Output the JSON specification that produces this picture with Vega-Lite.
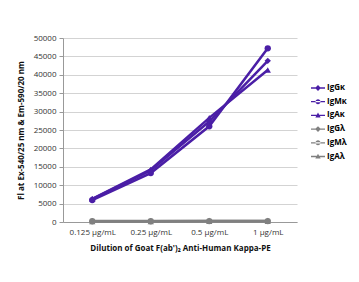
{
  "$schema": "https://vega.github.io/schema/vega-lite/v6.json",
  "width": 234,
  "height": 184,
  "autosize": "none",
  "padding": {"left": 63, "top": 38, "right": 62, "bottom": 60},
  "background": "white",
  "config": {
    "view": {"stroke": null},
    "font": "Open Sans",
    "axis": {"labelFont": "Open Sans", "titleFont": "Open Sans", "labelColor": "#333", "titleColor": "#111"}
  },
  "data": {
    "values": [
      {"dilution": "0.125 µg/mL", "series": "IgGκ", "value": 6200},
      {"dilution": "0.25 µg/mL", "series": "IgGκ", "value": 14000},
      {"dilution": "0.5 µg/mL", "series": "IgGκ", "value": 27300},
      {"dilution": "1 µg/mL", "series": "IgGκ", "value": 43800},
      {"dilution": "0.125 µg/mL", "series": "IgMκ", "value": 5950},
      {"dilution": "0.25 µg/mL", "series": "IgMκ", "value": 13300},
      {"dilution": "0.5 µg/mL", "series": "IgMκ", "value": 26000},
      {"dilution": "1 µg/mL", "series": "IgMκ", "value": 47200},
      {"dilution": "0.125 µg/mL", "series": "IgAκ", "value": 6300},
      {"dilution": "0.25 µg/mL", "series": "IgAκ", "value": 14300},
      {"dilution": "0.5 µg/mL", "series": "IgAκ", "value": 28300},
      {"dilution": "1 µg/mL", "series": "IgAκ", "value": 41300},
      {"dilution": "0.125 µg/mL", "series": "IgGλ", "value": 250},
      {"dilution": "0.25 µg/mL", "series": "IgGλ", "value": 250},
      {"dilution": "0.5 µg/mL", "series": "IgGλ", "value": 300},
      {"dilution": "1 µg/mL", "series": "IgGλ", "value": 300},
      {"dilution": "0.125 µg/mL", "series": "IgMλ", "value": 200},
      {"dilution": "0.25 µg/mL", "series": "IgMλ", "value": 200},
      {"dilution": "0.5 µg/mL", "series": "IgMλ", "value": 250},
      {"dilution": "1 µg/mL", "series": "IgMλ", "value": 250},
      {"dilution": "0.125 µg/mL", "series": "IgAλ", "value": 150},
      {"dilution": "0.25 µg/mL", "series": "IgAλ", "value": 150},
      {"dilution": "0.5 µg/mL", "series": "IgAλ", "value": 200},
      {"dilution": "1 µg/mL", "series": "IgAλ", "value": 200}
    ]
  },
  "encoding": {
    "x": {
      "field": "dilution", "type": "ordinal",
      "sort": ["0.125 µg/mL", "0.25 µg/mL", "0.5 µg/mL", "1 µg/mL"],
      "scale": {"type": "point", "padding": 0.5},
      "axis": {
        "title": "Dilution of Goat F(ab')₂ Anti-Human Kappa-PE",
        "titleFontSize": 8, "titleFontWeight": "bold", "titlePadding": 8,
        "labelAngle": 0, "labelFontSize": 8, "labelPadding": 6,
        "ticks": false, "domainColor": "#999", "grid": false
      }
    },
    "y": {
      "field": "value", "type": "quantitative",
      "scale": {"domain": [0, 50000]},
      "axis": {
        "title": "Fl at Ex-540/25 nm & Em-590/20 nm",
        "titleFontSize": 8, "titleFontWeight": "bold", "titlePadding": 8,
        "values": [0, 5000, 10000, 15000, 20000, 25000, 30000, 35000, 40000, 45000, 50000],
        "format": "d", "labelFontSize": 8, "labelPadding": 3,
        "tickSize": 4, "tickColor": "#999", "domainColor": "#999",
        "gridColor": "#c8c8c8", "gridWidth": 0.8
      }
    }
  },
  "layer": [
    {
      "mark": {"type": "line", "strokeWidth": 2.5},
      "encoding": {
        "stroke": {
          "field": "series", "type": "nominal",
          "scale": {
            "domain": ["IgAλ", "IgMλ", "IgGλ", "IgAκ", "IgMκ", "IgGκ"],
            "range": ["#808080", "#808080", "#808080", "#4a1ea6", "#4a1ea6", "#4a1ea6"]
          },
          "legend": {
            "title": null, "orient": "none", "legendX": 248, "legendY": 43,
            "values": ["IgGκ", "IgMκ", "IgAκ", "IgGλ", "IgMλ", "IgAλ"],
            "labelFontSize": 8, "labelFontWeight": "bold", "rowPadding": 2.7,
            "symbolSize": 196, "labelOffset": 2,
            "encode": {
              "symbols": {
                "update": {
                  "shape": {"signal": "(datum.value === 'IgGκ' || datum.value === 'IgGλ') ? 'M-1,-0.09H1V0.09H-1Z M0,-0.42L0.42,0L0,0.42L-0.42,0Z' : ((datum.value === 'IgMκ' || datum.value === 'IgMλ') ? 'M-1,-0.09H1V0.09H-1Z M-0.36,0A0.36,0.36 0 1,0 0.36,0A0.36,0.36 0 1,0 -0.36,0Z' : 'M-1,-0.09H1V0.09H-1Z M0,-0.4L0.38,0.3L-0.38,0.3Z')"},
                  "fill": {"signal": "(datum.value === 'IgGκ' || datum.value === 'IgMκ' || datum.value === 'IgAκ') ? '#4a1ea6' : '#808080'"},
                  "strokeWidth": {"value": 0},
                  "opacity": {"value": 1}
                }
              }
            }
          }
        }
      }
    },
    {
      "mark": {"type": "point", "filled": true, "size": 40, "opacity": 1},
      "encoding": {
        "fill": {
          "field": "series", "type": "nominal",
          "scale": {
            "domain": ["IgGκ", "IgMκ", "IgAκ", "IgGλ", "IgMλ", "IgAλ"],
            "range": ["#4a1ea6", "#4a1ea6", "#4a1ea6", "#808080", "#808080", "#808080"]
          },
          "legend": null
        },
        "shape": {
          "field": "series", "type": "nominal",
          "scale": {
            "domain": ["IgGκ", "IgMκ", "IgAκ", "IgGλ", "IgMλ", "IgAλ"],
            "range": ["diamond", "circle", "triangle-up", "diamond", "circle", "triangle-up"]
          },
          "legend": null
        }
      }
    }
  ]
}
